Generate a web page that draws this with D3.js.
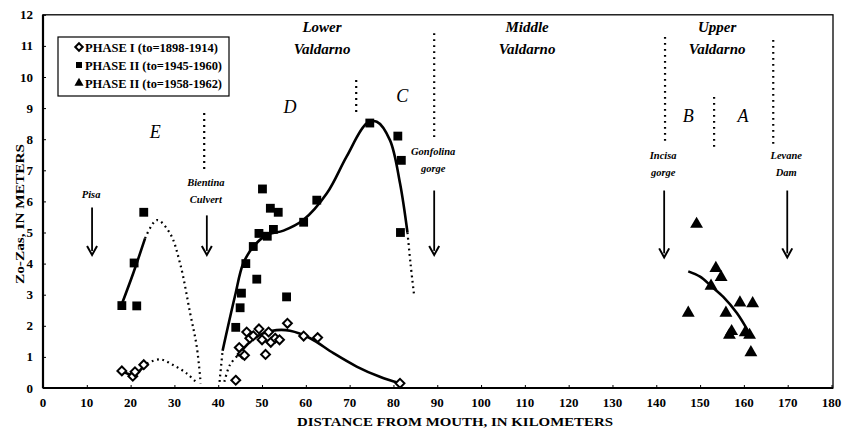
<!DOCTYPE html>
<html lang="en">
<head>
<meta charset="UTF-8">
<title>Zo-Zas along the Arno</title>
<script src="https://cdn.jsdelivr.net/npm/d3@7"></script>
<style>
  body { margin: 0; background: #fff; }
  svg { display: block; }
  text { font-family: "Liberation Serif", "DejaVu Serif", serif; fill: #000; }
  .tick-label { font-size: 13px; font-weight: bold; }
  .place { font-size: 10.5px; font-weight: bold; font-style: italic; }
  .region { font-size: 15px; font-weight: bold; font-style: italic; }
  .reach { font-size: 18px; font-style: italic; }
</style>
</head>
<body>
<svg width="844" height="429"></svg>
<script>
  // Phase I (to=1898-1914) observations: [km, Zo-Zas]
  const phase1 = [
    [18, 0.55], [20.5, 0.38], [21, 0.52], [23, 0.75],
    [44, 0.25], [44.8, 1.3], [45.5, 1.1], [46, 1.05], [46.5, 1.8], [47.2, 1.6],
    [48, 1.68], [49.3, 1.9], [50, 1.55], [50.8, 1.08], [51.5, 1.8], [52, 1.47],
    [53, 1.6], [54, 1.55], [55.8, 2.08], [59.5, 1.67], [62.7, 1.62], [81.5, 0.15]
  ];
  // Phase II (to=1945-1960)
  const phase2 = [
    [18, 2.65], [20.8, 4.02], [21.4, 2.64], [23, 5.65],
    [44, 1.95], [45, 2.58], [45.3, 3.05], [46.3, 4.0], [48, 4.55], [48.8, 3.5],
    [49.3, 4.97], [50.1, 6.4], [51.2, 4.88], [51.9, 5.78], [52.6, 5.1], [53.7, 5.65],
    [55.6, 2.93], [59.5, 5.33], [62.5, 6.04], [74.6, 8.52], [81, 8.1], [81.8, 7.32], [81.6, 5.0]
  ];
  // Phase II (to=1958-1962), upper reach
  const phase3 = [
    [149.2, 5.27], [153.6, 3.85], [154.8, 3.56], [152.5, 3.28], [147.3, 2.41],
    [159.1, 2.74], [162, 2.72], [155.9, 2.41], [157.2, 1.82], [156.7, 1.7],
    [160.3, 1.78], [161.3, 1.7], [161.6, 1.14]
  ];

  // hand-drawn trend curves (solid and dotted parts)
  const curve1Solid = [[18, 0.56], [19.5, 0.45], [21, 0.42], [22.5, 0.62], [23.7, 0.79]];
  const curve1Dotted = [[23.7, 0.79], [26.7, 0.92], [29.7, 0.74], [32.8, 0.47], [35, 0.18]];
  const curve1bDotted = [[41.4, 0.2], [42.7, 0.75], [44.3, 1.02]];
  const curve1bSolid = [[44.3, 1.02], [47.3, 1.49], [50.3, 1.76], [53.3, 1.86], [56.4, 1.84],
    [61, 1.6], [66.3, 1.12], [71.6, 0.69], [76.9, 0.36], [81.5, 0.15]];
  const curve2Solid = [[18, 2.7], [20.6, 3.69], [23.3, 4.81]];
  const curve2Dotted = [[23.3, 4.81], [26, 5.4], [29, 4.97], [31.3, 4.0], [33.6, 2.4], [35.1, 1.33], [36, 0.15]];
  const curve2bDotted = [[40.3, 0.2], [41, 1.2]];
  const curve2bSolid = [[41, 1.2], [43.8, 2.94], [45.7, 4.0], [48, 4.54], [51.1, 4.92], [54.9, 5.06],
    [59.4, 5.4], [64.8, 6.26], [69.3, 7.44], [73.9, 8.51], [76.2, 8.56], [79.2, 7.97], [81.5, 6.58], [83.2, 5.0]];
  const curve2cDotted = [[83.2, 5.0], [83.9, 4.0], [84.7, 3.0]];
  const curve3Solid = [[147.3, 3.75], [150, 3.58], [152.5, 3.28], [155.3, 2.93], [158.4, 2.41], [161, 1.82]];

  const xTicks = d3.range(0, 181, 10);
  const yTicks = d3.range(0, 13, 1);

  // reach dividers: [km, top, bottom]
  const dividers = [[36.8, 8.84, 6.95], [71.5, 9.9, 8.87], [89.3, 11.41, 7.97],
    [142, 11.29, 7.91], [153.2, 9.36, 7.72], [166.7, 11.19, 7.72]];
  // location arrows
  const places = [
    { km: 11.2, lines: ["Pisa"], labelY: 6.1, from: 5.8, to: 4.28 },
    { km: 37.4, lines: ["Bientina", "Culvert"], labelY: 6.5, from: 5.55, to: 4.28 },
    { km: 89.3, lines: ["Gonfolina", "gorge"], labelY: 7.5, from: 6.35, to: 4.28 },
    { km: 141.8, lines: ["Incisa", "gorge"], labelY: 7.35, from: 6.35, to: 4.2 },
    { km: 169.9, lines: ["Levane", "Dam"], labelY: 7.35, from: 6.35, to: 4.2 }
  ];
  const regions = [
    { km: 63.7, lines: ["Lower", "Valdarno"] },
    { km: 110.5, lines: ["Middle", "Valdarno"] },
    { km: 153.9, lines: ["Upper", "Valdarno"] }
  ];
  const reaches = [["E", 25.6, 8.05], ["D", 56.4, 8.85], ["C", 82, 9.2], ["B", 147.3, 8.55], ["A", 159.8, 8.55]];

  const svg = d3.select("svg");
  const x = d3.scaleLinear().domain([0, 180]).range([43, 831.5]);
  const y = d3.scaleLinear().domain([0, 12]).range([388, 14.8]);

  // frame
  svg.append("rect")
    .attr("x", x(0)).attr("y", y(12))
    .attr("width", 833 - x(0)).attr("height", y(0) - y(12))
    .attr("fill", "none").attr("stroke", "#000").attr("stroke-width", 1.3);
  svg.append("line").attr("x1", x(0)).attr("x2", x(0)).attr("y1", y(12)).attr("y2", y(0))
    .attr("stroke", "#000").attr("stroke-width", 2.2);
  svg.append("line").attr("x1", x(0)).attr("x2", 833).attr("y1", y(0)).attr("y2", y(0))
    .attr("stroke", "#000").attr("stroke-width", 2.2);

  // axes (ticks pointing inward)
  const xAxis = svg.append("g").attr("transform", `translate(0,${y(0)})`)
    .call(d3.axisTop(x).tickValues(xTicks).tickSize(3).tickFormat(""));
  xAxis.select(".domain").remove();
  svg.append("g").selectAll("text").data(xTicks).join("text")
    .attr("class", "tick-label").attr("x", d => x(d)).attr("y", 407)
    .attr("text-anchor", "middle").text(d => d);

  const yAxis = svg.append("g").attr("transform", `translate(${x(0)},0)`)
    .call(d3.axisRight(y).tickValues(yTicks).tickSize(3).tickFormat(""));
  yAxis.select(".domain").remove();
  svg.append("g").selectAll("text").data(yTicks).join("text")
    .attr("class", "tick-label").attr("x", 33).attr("y", d => y(d) + 4.5)
    .attr("text-anchor", "end").text(d => d);

  svg.append("text").attr("class", "tick-label").attr("font-size", "15px")
    .attr("x", 455).attr("y", 426).attr("text-anchor", "middle")
    .attr("textLength", 316).attr("lengthAdjust", "spacingAndGlyphs")
    .text("DISTANCE FROM MOUTH, IN KILOMETERS");
  svg.append("text").attr("class", "tick-label").attr("font-size", "15px")
    .attr("transform", "translate(24,214) rotate(-90)").attr("text-anchor", "middle")
    .attr("textLength", 140).attr("lengthAdjust", "spacingAndGlyphs")
    .text("Zo-Zas, IN METERS");

  // curves
  const line = d3.line().x(d => x(d[0])).y(d => y(d[1])).curve(d3.curveCatmullRom.alpha(0.5));
  const drawCurve = (pts, dotted) => svg.append("path").datum(pts).attr("d", line)
    .attr("fill", "none").attr("stroke", "#000")
    .attr("stroke-width", dotted ? 2.2 : 2.6)
    .attr("stroke-dasharray", dotted ? "1.8,3.6" : null);
  [curve1Solid, curve1bSolid, curve2Solid, curve2bSolid, curve3Solid].forEach(c => drawCurve(c, false));
  [curve1Dotted, curve1bDotted, curve2Dotted, curve2bDotted, curve2cDotted].forEach(c => drawCurve(c, true));

  // dividers
  svg.append("g").selectAll("line").data(dividers).join("line")
    .attr("x1", d => x(d[0])).attr("x2", d => x(d[0]))
    .attr("y1", d => y(d[1])).attr("y2", d => y(d[2]))
    .attr("stroke", "#000").attr("stroke-width", 2.2).attr("stroke-dasharray", "1.8,4.2");

  // arrows
  const pg = svg.append("g").selectAll("g").data(places).join("g");
  pg.append("line").attr("x1", d => x(d.km)).attr("x2", d => x(d.km))
    .attr("y1", d => y(d.from)).attr("y2", d => y(d.to) - 4)
    .attr("stroke", "#000").attr("stroke-width", 1.8);
  pg.append("path")
    .attr("d", d => `M${x(d.km) - 5},${y(d.to) - 9} L${x(d.km)},${y(d.to)} L${x(d.km) + 5},${y(d.to) - 9}`)
    .attr("fill", "none").attr("stroke", "#000").attr("stroke-width", 2);
  pg.each(function(d) {
    d3.select(this).selectAll("text").data(d.lines).join("text")
      .attr("class", "place").attr("text-anchor", "middle")
      .attr("x", x(d.km) - 1).attr("y", (t, i) => y(d.labelY) + i * 17)
      .text(t => t);
  });

  // region labels
  const rg = svg.append("g").selectAll("g").data(regions).join("g");
  rg.each(function(d) {
    d3.select(this).selectAll("text").data(d.lines).join("text")
      .attr("class", "region").attr("text-anchor", "middle")
      .attr("x", x(d.km)).attr("y", (t, i) => y(11.45) + i * 22)
      .text(t => t);
  });
  svg.append("g").selectAll("text").data(reaches).join("text")
    .attr("class", "reach").attr("text-anchor", "middle")
    .attr("x", d => x(d[1])).attr("y", d => y(d[2]))
    .text(d => d[0]);

  // markers
  const diamond = d3.symbol().type(d3.symbolDiamond2).size(50);
  const square = d3.symbol().type(d3.symbolSquare).size(78);
  const triangle = d3.symbol().type(d3.symbolTriangle).size(72);
  svg.append("g").selectAll("path").data(phase1).join("path")
    .attr("d", diamond).attr("transform", d => `translate(${x(d[0])},${y(d[1])})`)
    .attr("fill", "#fff").attr("stroke", "#000").attr("stroke-width", 2);
  svg.append("g").selectAll("path").data(phase2).join("path")
    .attr("d", square).attr("transform", d => `translate(${x(d[0])},${y(d[1])})`)
    .attr("fill", "#000");
  svg.append("g").selectAll("path").data(phase3).join("path")
    .attr("d", triangle).attr("transform", d => `translate(${x(d[0])},${y(d[1])})`)
    .attr("fill", "#000");

  // legend
  const legend = svg.append("g");
  legend.append("rect").attr("x", 58).attr("y", 37).attr("width", 171).attr("height", 59)
    .attr("fill", "#fff").attr("stroke", "#000").attr("stroke-width", 1.2);
  const legendItems = [
    { label: "PHASE I (to=1898-1914)", len: 133, sym: diamond, fill: "#fff" },
    { label: "PHASE II (to=1945-1960)", len: 137, sym: square, fill: "#000" },
    { label: "PHASE II (to=1958-1962)", len: 137, sym: triangle, fill: "#000" }
  ];
  const li = legend.selectAll("g").data(legendItems).join("g")
    .attr("transform", (d, i) => `translate(0,${47 + i * 18})`);
  li.append("path").attr("d", d => d.sym.size(36)()).attr("transform", "translate(79,0)")
    .attr("fill", d => d.fill).attr("stroke", "#000").attr("stroke-width", d => d.fill === "#fff" ? 2 : 0);
  li.append("text").attr("x", 85).attr("y", 4.5).attr("font-size", "12.5px").attr("font-weight", "bold")
    .attr("textLength", d => d.len).attr("lengthAdjust", "spacingAndGlyphs")
    .text(d => d.label);
</script>
</body>
</html>
